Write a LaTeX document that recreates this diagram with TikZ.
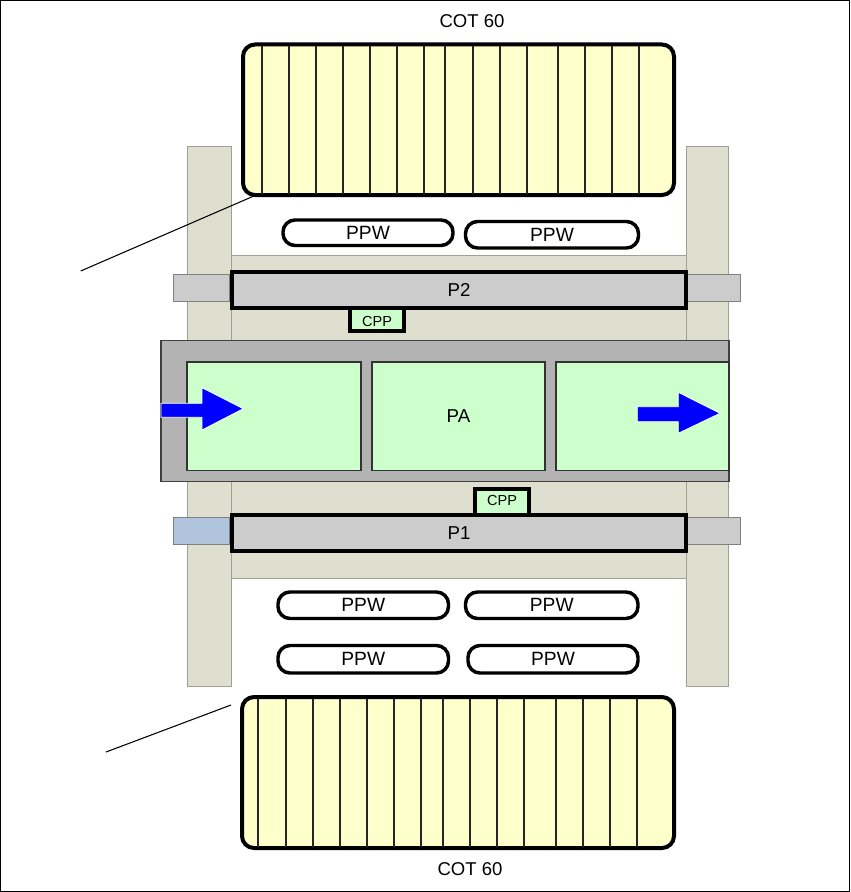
\documentclass[tikz,border=0pt]{standalone}
\usepackage{fontspec}
\setmainfont{Liberation Sans}
\usetikzlibrary{fit}
\definecolor{cotfill}{RGB}{255,255,204}
\definecolor{pillarfill}{RGB}{223,223,208}
\definecolor{pillaredge}{RGB}{160,160,150}
\definecolor{framefill}{RGB}{179,179,179}
\definecolor{greenfill}{RGB}{204,255,204}
\definecolor{barfill}{RGB}{204,204,204}
\definecolor{stubblue}{RGB}{176,196,222}
\definecolor{arrowblue}{RGB}{0,0,255}
\begin{document}
\begin{tikzpicture}[x=0.75pt,y=-0.75pt,
 area/.style={inner sep=0pt, outer sep=0pt},
 pillarbox/.style={area, draw=pillaredge, line width=0.75pt, fill=pillarfill},
 cotbox/.style={area, draw=black, line width=3pt, fill=cotfill, rounded corners=9pt},
 ppwbox/.style={area, draw=black, line width=2.6pt, fill=white, rounded corners=9pt},
 barbox/.style={area, draw=black, line width=3pt, fill=barfill},
 stubbox/.style={area, draw=gray, line width=0.75pt, fill=barfill},
 cppbox/.style={area, draw=black, line width=2.6pt, fill=greenfill},
 framebox/.style={area, draw=black!75, line width=0.9pt, fill=framefill},
 pabox/.style={area, draw=black!80, line width=0.9pt, fill=greenfill},
 slat/.style={draw=black!85, line width=1pt},
 leader/.style={draw=black, line width=0.8pt},
 flow/.style={fill=arrowblue, draw=white, line width=0.6pt},
 biglbl/.style={font=\fontsize{13.9}{16}\selectfont},
 lbl/.style={font=\fontsize{14}{16}\selectfont},
 ppwlbl/.style={font=\fontsize{14.4}{16}\selectfont},
 smalllbl/.style={font=\fontsize{10.9}{12}\selectfont}]
\useasboundingbox (0,0) rectangle (850,892);
\draw[line width=0.75pt] (0.5,0.5) rectangle (849.5,891.5);

% pillars and middle area
\node[pillarbox, fit={(187.5,146.7)(231.5,686.7)}] (pilL) {};
\node[pillarbox, fit={(686,146.7)(728,686.7)}] (pilR) {};
\node[pillarbox, fit={(231.5,255)(686,578.5)}] (mid) {};

% leader lines
\coordinate (ldT) at (80.7,271);
\coordinate (ldTend) at (255,195.5);
\draw[leader] (ldT) -- (ldTend);
\coordinate (ldB) at (106,752);
\coordinate (ldBend) at (231,705);
\draw[leader] (ldB) -- (ldBend);

% top cot
\node[biglbl] (cotTlbl) at (472,21.5) {COT 60};
\node[cotbox, fit={(243,44.5)(674,195)}] (cotT) {};
\foreach \x in {262,289,316,343,370,397,424,445,473,500,527,558,585,612,639}
  \draw[slat] (\x,46) -- (\x,193.5);

% top PPW
\node[ppwbox, fit={(283,220)(453,245.5)}] (ppwT1) {};
\node[ppwlbl] at (ppwT1.center) {PPW};
\node[ppwbox, fit={(465.5,221.5)(638.5,248)}] (ppwT2) {};
\node[ppwlbl] at (ppwT2.center) {PPW};

% P2 with stubs and CPP
\node[stubbox, fit={(173,274.5)(229,301.5)}] (s2L) {};
\node[stubbox, fit={(687,274.5)(740,301.5)}] (s2R) {};
\node[cppbox, fit={(350,306)(404,331)}] (cppT) {};
\node[smalllbl] (cppTl) at (377,321.5) {CPP};
\node[barbox, fit={(232,272)(686,308)}] (P2) {};
\node[lbl] (P2l) at (P2.center) {P2};

% PA
\node[framebox, fit={(161,340.5)(729,481.5)}] (PAframe) {};
\node[pabox, fit={(187,362)(361,470.5)}] (PAa) {};
\node[pabox, fit={(372,362)(545,470.5)}] (PAb) {};
\node[pabox, fit={(556,362)(729,470.5)}] (PAc) {};
\node[lbl] (PAl) at (PAb.center) {PA};
\path[flow] (161,403.3) -- (202,403.3) -- (202,387.7) -- (243.3,408.7) -- (202,430) -- (202,417.3) -- (161,417.3) -- cycle;
\path[flow] (637.3,406.7) -- (678.3,406.7) -- (678.3,392.3) -- (720,413.3) -- (678.3,433.3) -- (678.3,421.7) -- (637.3,421.7) -- cycle;

% P1 with stubs and CPP
\node[stubbox, fill=stubblue, fit={(173,517)(229,544)}] (s1L) {};
\node[stubbox, fit={(687,517)(740,544)}] (s1R) {};
\node[cppbox, fit={(475,489)(529,516)}] (cppB) {};
\node[smalllbl] (cppBl) at (502,500) {CPP};
\node[barbox, fit={(232,514.5)(686,551)}] (P1) {};
\node[lbl] (P1l) at (P1.center) {P1};

% bottom PPW
\node[ppwbox, fit={(278,592)(448.5,618.5)}] (ppwB1) {};
\node[ppwlbl] at (ppwB1.center) {PPW};
\node[ppwbox, fit={(465.5,592)(638,618.5)}] (ppwB2) {};
\node[ppwlbl] at (ppwB2.center) {PPW};
\node[ppwbox, fit={(278,645.5)(448.5,673)}] (ppwB3) {};
\node[ppwlbl] at (ppwB3.center) {PPW};
\node[ppwbox, fit={(468,645.5)(638,673)}] (ppwB4) {};
\node[ppwlbl] at (ppwB4.center) {PPW};

% bottom cot
\node[cotbox, fit={(242,697)(674,848)}] (cotB) {};
\foreach \x in {258,286,313,340,367,394,421,443,470,497,524,556,583,610,637}
  \draw[slat] (\x,698.5) -- (\x,846.5);
\node[biglbl] (cotBlbl) at (470,869) {COT 60};
\end{tikzpicture}
\end{document}
